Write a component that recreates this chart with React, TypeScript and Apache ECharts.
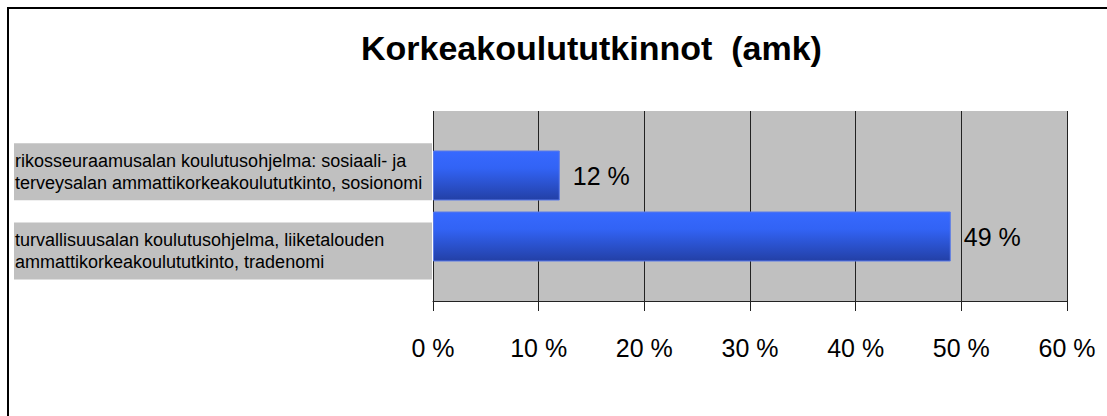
import React, { useEffect, useRef } from "react";
import * as echarts from "echarts";

const titleText = "Korkeakoulututkinnot  (amk)";
const categories = [
  "rikosseuraamusalan koulutusohjelma: sosiaali- ja\nterveysalan ammattikorkeakoulututkinto, sosionomi",
  "turvallisuusalan koulutusohjelma, liiketalouden\nammattikorkeakoulututkinto, tradenomi",
];
const values = [12, 49];
const axisMin = 0;
const axisMax = 60;
const axisInterval = 10;

const FONT = "'Liberation Sans', Arial, sans-serif";

export default function App() {
  const ref = useRef<HTMLDivElement>(null);
  useEffect(() => {
    if (!ref.current) return;
    const chart = echarts.init(ref.current, undefined, { renderer: "svg" });
    const left = 433;
    const width = 634;
    chart.setOption({
      animation: false,
      backgroundColor: "#ffffff",
      textStyle: { fontFamily: FONT },
      title: {
        text: titleText,
        left: 356,
        top: 26,
        textStyle: { fontFamily: FONT, fontSize: 34, fontWeight: "bold", color: "#000" },
      },
      graphic: [
        {
          type: "rect",
          shape: { x: 8, y: 8, width: 1200, height: 500 },
          style: { fill: "none", stroke: "#000", lineWidth: 2 },
          silent: true,
        },
      ],
      grid: [
        { left, top: 111, width, height: 190, show: true, backgroundColor: "#c0c0c0", borderWidth: 0 },
        { left, top: 145, width, height: 122 },
        { left, top: 132, width, height: 158.5 },
      ],
      xAxis: [
        {
          gridIndex: 0,
          type: "value",
          min: axisMin,
          max: axisMax,
          interval: axisInterval,
          axisLine: { show: true, lineStyle: { color: "#222", width: 1 } },
          axisTick: { show: true, length: 10, lineStyle: { color: "#222" } },
          splitLine: { show: true, lineStyle: { color: "#222", width: 1 } },
          axisLabel: {
            formatter: "{value} %",
            fontFamily: FONT,
            fontSize: 25,
            color: "#000",
            margin: 34,
          },
        },
        { gridIndex: 1, type: "value", min: axisMin, max: axisMax, show: false },
        { gridIndex: 2, type: "value", min: axisMin, max: axisMax, show: false },
      ],
      yAxis: [
        { gridIndex: 0, type: "value", show: false, splitLine: { show: false } },
        { gridIndex: 1, type: "category", data: categories, inverse: true, show: false },
        {
          gridIndex: 2,
          type: "category",
          data: categories,
          inverse: true,
          axisLine: { show: false },
          axisTick: { show: false },
          axisLabel: {
            align: "left",
            margin: 419,
            fontFamily: FONT,
            fontSize: 18,
            lineHeight: 22,
            color: "#000",
            backgroundColor: "#c0c0c0",
            width: 416,
            height: 57,
            padding: [0, 1, 0, 1],
            verticalAlign: "middle",
          },
        },
      ],
      series: [
        {
          type: "bar",
          xAxisIndex: 1,
          yAxisIndex: 1,
          data: values,
          barWidth: 50,
          itemStyle: {
            color: new echarts.graphic.LinearGradient(0, 0, 0, 1, [
              { offset: 0, color: "#3769ff" },
              { offset: 0.35, color: "#3263f5" },
              { offset: 1, color: "#2340a6" },
            ]),
            borderColor: "#5a7be8",
            borderWidth: 1,
          },
          label: {
            show: true,
            position: "right",
            distance: 13,
            formatter: "{c} %",
            fontFamily: FONT,
            fontSize: 25,
            color: "#000",
          },
        },
      ],
    });
    return () => chart.dispose();
  }, []);
  return (
    <div
      ref={ref}
      style={{ position: "absolute", left: 0, top: 0, width: 1107, height: 416 }}
    />
  );
}
